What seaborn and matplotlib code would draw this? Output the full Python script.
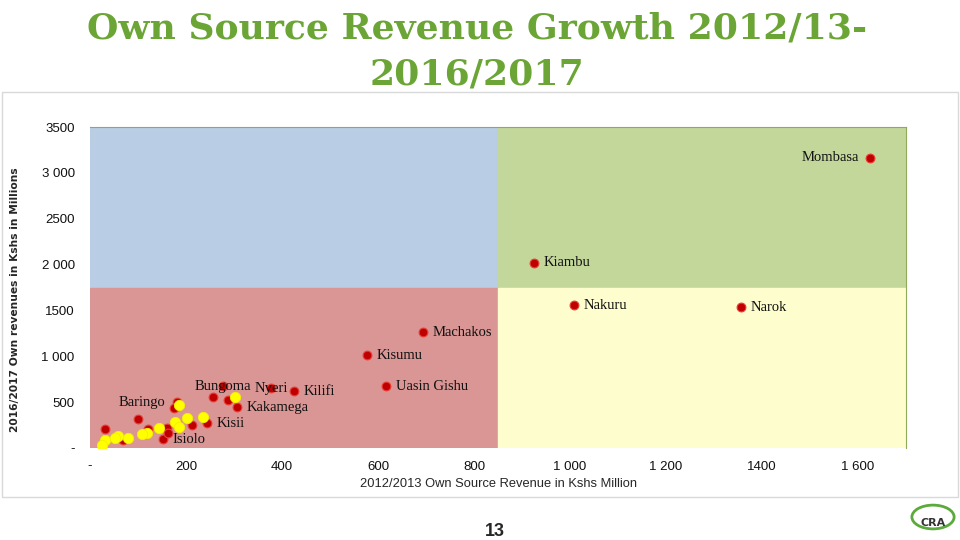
import matplotlib
matplotlib.use("Agg")
import matplotlib.pyplot as plt
import matplotlib.patches as mpatches
import seaborn as sns
import pandas as pd

# red series: counties (2012/13 revenue, 2016/17 revenue)
county = ["Mombasa", "Kiambu", "Nakuru", "Narok", "Machakos", "Kisumu",
          "Uasin Gishu", "Kilifi", "Nyeri", "Bungoma", "Kakamega", "Kisii",
          "Baringo", "Isiolo", "", "", "", "", "", "", "", "", "", ""]
rev_1213 = [1625, 925, 1008, 1356, 694, 577, 617, 425, 377, 277, 306, 244,
            181, 152, 256, 288, 175, 100, 31, 212, 160, 162, 121, 69]
rev_1617 = [3163, 2022, 1554, 1533, 1261, 1011, 674, 620, 652, 674, 446, 272,
            500, 98, 554, 522, 435, 315, 207, 250, 217, 163, 207, 87]

# yellow series
yel_1213 = [302, 185, 177, 185, 202, 235, 144, 119, 108, 79, 58, 52, 31, 25]
yel_1617 = [554, 467, 283, 228, 326, 337, 217, 163, 152, 109, 130, 109, 87, 33]

# quadrant split lines
x_split = 850
y_split = 1740

x_ticks = [0, 200, 400, 600, 800, 1000, 1200, 1400, 1600]
x_labels = ["-", "200", "400", "600", "800", "1 000", "1 200", "1400", "1 600"]
y_ticks = [0, 500, 1000, 1500, 2000, 2500, 3000, 3500]
y_labels = ["-", "500", "1 000", "1500", "2 000", "2500", "3 000", "3500"]

# label placement: left / center, everything else right
label_left = ["Mombasa", "Baringo"]
label_center = ["Nyeri", "Bungoma"]

sns.set_style("white")
plt.rcParams['font.family'] = ['Liberation Sans', 'DejaVu Sans']

fig = plt.figure(figsize=(9.6, 5.4), dpi=100)
ax = fig.add_axes([90 / 960, 1 - 448 / 540, 816 / 960, 321 / 540])
xmax, ymax = 1700, 3500
ax.set_xlim(0, xmax)
ax.set_ylim(0, ymax)

# quadrant backgrounds
ax.add_patch(mpatches.Rectangle((0, y_split), x_split, ymax - y_split, color="#B9CDE5", zorder=0))
ax.add_patch(mpatches.Rectangle((x_split, y_split), xmax - x_split, ymax - y_split, color="#C4D79B", zorder=0))
ax.add_patch(mpatches.Rectangle((0, 0), x_split, y_split, color="#D99694", zorder=0))
ax.add_patch(mpatches.Rectangle((x_split, 0), xmax - x_split, y_split, color="#FEFDCD", zorder=0))

red = pd.DataFrame({"x": rev_1213, "y": rev_1617, "name": county})
yel = pd.DataFrame({"x": yel_1213, "y": yel_1617})

sns.scatterplot(data=red, x="x", y="y", ax=ax, s=40, color="#C00000",
                edgecolor="#E8403A", linewidth=0.8, zorder=3)
sns.scatterplot(data=yel, x="x", y="y", ax=ax, s=55, color="#FFFF00",
                edgecolor="#F4F000", linewidth=0.6, zorder=4)

for _, r in red.iterrows():
    if not r["name"]:
        continue
    if r["name"] in label_left:
        off, ha = (-8, 0), "right"
    elif r["name"] in label_center:
        off, ha = (0, 0), "center"
    else:
        off, ha = (7, 0), "left"
    ax.annotate(r["name"], (r["x"], r["y"]), xytext=off, textcoords="offset points",
                ha=ha, va="center", fontsize=10.5, family="Liberation Serif",
                color="#111111", zorder=5)

ax.set_xticks(x_ticks)
ax.set_xticklabels(x_labels)
ax.set_yticks(y_ticks)
ax.set_yticklabels(y_labels)
ax.tick_params(axis="both", length=0, labelsize=9.5, colors="#111111")
ax.tick_params(axis="x", pad=9)
ax.tick_params(axis="y", pad=11)

ax.set_xlabel("2012/2013 Own Source Revenue in Kshs Million", fontsize=9.3, labelpad=4)
ax.set_ylabel("2016/2017 Own revenues in Kshs in Millions", fontsize=7.7,
              fontweight="bold", family="DejaVu Sans")
ax.yaxis.set_label_coords(-70 / 816, 0.463)

for side in ["left", "bottom"]:
    ax.spines[side].set_visible(False)
for side in ["top", "right"]:
    ax.spines[side].set_color("#8EAA5A")
    ax.spines[side].set_linewidth(0.8)

# chart frame
fig.patches.append(mpatches.Rectangle((0.002, 1 - 497 / 540), 0.996, 405 / 540,
                                      transform=fig.transFigure, fill=False,
                                      edgecolor="#D9D9D9", linewidth=1, zorder=0))

fig.text(0.497, 1 - 28 / 540, "Own Source Revenue Growth 2012/13-", ha="center", va="center",
         fontsize=26, fontweight="bold", family="DejaVu Serif", color="#6AA535")
fig.text(0.497, 1 - 75 / 540, "2016/2017", ha="center", va="center",
         fontsize=26, fontweight="bold", family="DejaVu Serif", color="#6AA535")

fig.text(495 / 960, 1 - 532 / 540, "13", ha="center", va="center",
         fontsize=13, fontweight="bold", family="Liberation Sans")

# logo approximation
fig.patches.append(mpatches.Circle((933 / 960, 1 - 517 / 540), 0.022, transform=fig.transFigure,
                                   facecolor="white", edgecolor="#5BAA3C", linewidth=2))
fig.text(933 / 960, 1 - 523 / 540, "CRA", ha="center", va="center", fontsize=8,
         fontweight="bold", color="#333333", family="DejaVu Sans")

fig.savefig("out.png", dpi=100)
